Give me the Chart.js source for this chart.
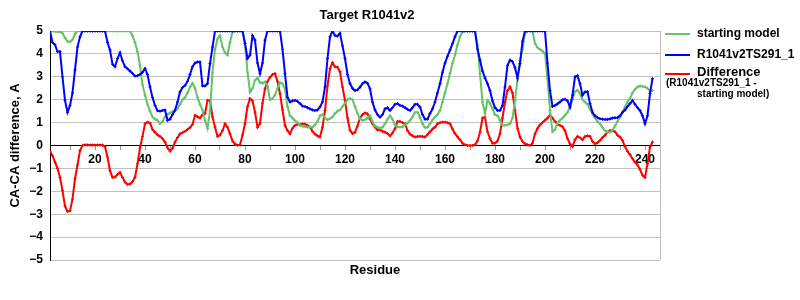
<!DOCTYPE html>
<html lang="en">
<head>
  <meta charset="UTF-8">
  <title>Target R1041v2</title>
  <script src="https://cdn.jsdelivr.net/npm/chart.js"></script>
  <style>
    body {
      margin: 0;
      background: #fff;
      font-family: 'Liberation Sans', Arial, sans-serif;
      font-weight: bold;
      color: #000;
    }
    .wrap {
      position: relative;
      width: 800px;
      height: 300px;
    }
    .txt {
      position: absolute;
      white-space: nowrap;
    }
    .swatch {
      position: absolute;
      width: 25px;
      height: 2px;
    }
  </style>
</head>
<body>
  <div class="wrap">
    <canvas id="chart" width="800" height="300"></canvas>
    <div class="txt" style="left:300px; top:7px; width:134px; text-align:center; font-size:13px;">Target R1041v2</div>
    <div class="txt" style="left:325px; top:262px; width:100px; text-align:center; font-size:13px;">Residue</div>

    <div class="swatch" style="left:665px; top:33px; background:#66c266;"></div>
    <div class="txt" style="left:697px; top:26px; font-size:12px;">starting model</div>
    <div class="swatch" style="left:665px; top:54px; background:#0000ff;"></div>
    <div class="txt" style="left:697px; top:47px; font-size:12px;">R1041v2TS291_1</div>
    <div class="swatch" style="left:665px; top:73px; background:#ff0000;"></div>
    <div class="txt" style="left:697px; top:64px; font-size:13px;">Difference</div>
    <div class="txt" style="left:666px; top:77px; font-size:10px;">(R1041v2TS291_1 -</div>
    <div class="txt" style="left:697px; top:88px; font-size:10px;">starting model)</div>
  </div>

  <script>
    // residues 2 .. 243
    const residues = Array.from({ length: 242 }, (_, i) => i + 2);

    // starting model (capped at 5 in the plot)
    const startingModel = [
      5.0, 5.0, 4.98, 4.97, 4.97, 4.9, 4.7, 4.55, 4.52, 4.62,
      4.88, 5.0, 5.0, 5.0, 5.0, 5.0, 5.0, 5.0, 5.0, 5.0,
      5.0, 5.0, 5.0, 5.0, 5.0, 5.0, 5.0, 5.0, 5.0, 5.0,
      5.0, 5.0, 5.0, 4.8, 4.5, 4.1, 3.5, 2.65, 2.2, 1.8,
      1.5, 1.25, 1.15, 1.1, 0.95, 1.05, 1.25, 1.35, 1.42, 1.48,
      1.53, 1.62, 1.8, 2.0, 2.1, 2.3, 2.55, 2.72, 2.5, 2.1,
      1.8, 1.55, 1.1, 0.75, 1.5, 3.2, 4.2, 4.65, 4.8, 4.3,
      4.05, 3.95, 4.5, 4.95, 5.0, 5.0, 5.0, 5.0, 4.45, 3.2,
      2.34, 2.5, 2.85, 2.95, 2.75, 2.72, 2.78, 2.6, 2.0, 2.05,
      2.2, 2.5, 2.75, 2.7, 2.5, 1.7, 1.3, 1.2, 1.08, 1.0,
      0.88, 0.84, 0.82, 0.8, 0.81, 0.8, 0.9, 1.05, 1.3, 1.35,
      1.2, 1.12, 1.17, 1.25, 1.4, 1.5, 1.55, 1.7, 1.85, 2.0,
      2.05, 2.0, 1.7, 1.4, 1.17, 1.1, 1.12, 1.2, 1.3, 1.05,
      0.85, 0.8, 0.76, 0.8, 0.95, 1.15, 1.3, 1.15, 0.9, 0.82,
      0.8, 0.82, 0.9, 0.98, 1.1, 1.25, 1.45, 1.45, 1.24, 0.95,
      0.78, 0.8, 0.95, 1.12, 1.25, 1.35, 1.53, 1.9, 2.3, 2.7,
      3.14, 3.6, 3.95, 4.4, 4.75, 4.95, 5.0, 5.0, 5.0, 5.0,
      5.0, 4.4, 3.14, 1.9, 1.4, 1.97, 1.85, 1.6, 1.35, 1.3,
      1.1, 0.88, 0.88, 0.9, 0.95, 1.2, 1.97, 2.9, 3.73, 4.2,
      4.9, 5.0, 5.0, 5.0, 4.46, 4.28, 4.2, 4.12, 4.02, 2.9,
      1.53, 0.6, 0.7, 0.98, 1.1, 1.2, 1.32, 1.45, 1.68, 2.0,
      2.35, 2.42, 2.27, 2.0, 1.9, 1.8, 1.6, 1.38, 1.2, 1.05,
      0.95, 0.78, 0.65, 0.58, 0.58, 0.68, 0.85, 1.05, 1.24, 1.45,
      1.7, 1.9, 2.05, 2.3, 2.45, 2.56, 2.6, 2.58, 2.56, 2.5,
      2.38, 2.4
    ];

    // R1041v2TS291_1 (capped at 5 in the plot)
    const model = [
      5.0, 4.5, 4.4, 4.1, 4.1, 3.0, 1.97, 1.45, 1.75, 2.3,
      3.3, 4.3, 4.75, 5.0, 5.0, 5.0, 5.0, 5.0, 5.0, 5.0,
      5.0, 5.0, 5.0, 4.5, 4.17, 3.55, 3.44, 3.8, 4.05, 3.7,
      3.44, 3.35, 3.25, 3.15, 3.03, 3.05, 3.1, 3.2, 3.36, 3.1,
      2.56, 2.1, 1.75, 1.52, 1.5, 1.53, 1.55, 1.1, 1.15, 1.35,
      1.53, 1.9, 2.34, 2.53, 2.62, 2.8, 3.1, 3.44, 3.6, 3.65,
      3.65, 2.6, 2.6, 2.7, 3.58, 4.3, 5.0, 5.0, 5.0, 5.0,
      5.0, 5.0, 5.0, 5.0, 5.0, 5.0, 5.0, 5.0, 4.46, 3.8,
      3.95, 4.8, 4.6, 3.6, 3.14, 3.6, 4.6, 5.0, 5.0, 5.0,
      5.0, 5.0, 5.0, 4.2, 3.14, 2.1, 1.9, 1.95, 1.97, 1.93,
      1.83, 1.72, 1.7, 1.65, 1.6, 1.55, 1.53, 1.55, 1.68, 1.9,
      2.56, 3.8, 4.75, 5.0, 4.8, 4.78, 4.9, 4.35, 3.8, 3.1,
      2.7, 2.5, 2.4, 2.43, 2.55, 2.7, 2.78, 2.72, 2.48, 1.9,
      1.55, 1.35, 1.24, 1.35, 1.6, 1.65, 1.53, 1.65, 1.8, 1.83,
      1.75, 1.72, 1.65, 1.58, 1.53, 1.65, 1.8, 1.8, 1.68, 1.35,
      1.15, 1.15, 1.4, 1.6, 1.9, 2.3, 2.7, 3.2, 3.6, 3.9,
      4.17, 4.45, 4.75, 5.0, 5.0, 5.0, 5.0, 5.0, 5.0, 5.0,
      5.0, 4.2, 3.73, 3.25, 2.95, 2.7, 2.4, 1.95, 1.65, 1.53,
      1.53, 1.75, 2.56, 3.5, 3.73, 3.66, 3.4, 2.95, 3.58, 4.55,
      5.0, 5.0, 5.0, 5.0, 5.0, 5.0, 5.0, 5.0, 5.0, 3.6,
      2.4, 1.7, 1.75, 1.82, 1.9, 2.0, 2.02, 1.95, 1.68, 2.2,
      3.0, 3.05, 2.7, 2.2, 2.34, 2.35, 1.83, 1.45, 1.3, 1.22,
      1.17, 1.15, 1.14, 1.14, 1.16, 1.2, 1.21, 1.22, 1.3, 1.45,
      1.55, 1.7, 1.83, 1.97, 1.8, 1.65, 1.53, 1.3, 0.95, 1.3,
      2.27, 2.92
    ];

    // Difference (R1041v2TS291_1 - starting model)
    const difference = [
      -0.25, -0.45, -0.73, -1.0, -1.4, -1.97, -2.65, -2.88, -2.85, -2.34,
      -1.45, -0.85, -0.22, 0.0, 0.03, 0.02, 0.02, 0.02, 0.02, 0.02,
      0.02, 0.02, -0.05, -0.5, -1.1, -1.39, -1.38, -1.26, -1.17, -1.39,
      -1.6, -1.7, -1.68, -1.58, -1.39, -0.8, -0.1, 0.4, 0.95, 1.02,
      0.98, 0.7, 0.58, 0.46, 0.4, 0.3, 0.15, -0.1, -0.25, -0.12,
      0.15, 0.35, 0.51, 0.56, 0.62, 0.7, 0.78, 0.92, 1.32, 1.25,
      1.2, 1.35, 1.39, 1.97, 1.97, 1.25, 0.8, 0.4, 0.45, 0.65,
      0.95, 0.8, 0.51, 0.2, 0.07, 0.01, 0.03, 0.45, 0.95, 1.7,
      2.05, 1.95, 1.46, 0.8, 0.95, 1.85, 2.48, 2.8, 2.98, 3.1,
      3.14, 2.8, 2.27, 1.55, 0.88, 0.65, 0.51, 0.75, 0.88, 0.93,
      0.92, 0.94, 0.93, 0.88, 0.8, 0.62, 0.5, 0.42, 0.37, 0.8,
      1.53, 2.6, 3.36, 3.62, 3.44, 3.42, 3.22, 2.55, 1.97, 1.2,
      0.66, 0.52, 0.58, 0.85, 1.2, 1.35, 1.42, 1.38, 1.15, 0.95,
      0.8, 0.68, 0.68, 0.62, 0.58, 0.52, 0.42, 0.55, 0.73, 1.05,
      1.05, 1.0, 0.95, 0.65, 0.5, 0.42, 0.37, 0.39, 0.4, 0.39,
      0.37, 0.48, 0.6, 0.72, 0.8, 0.95, 1.0, 1.02, 1.02, 1.0,
      0.95, 0.72, 0.52, 0.38, 0.25, 0.1, 0.03, 0.0, 0.0, 0.0,
      0.04, 0.2, 0.58, 1.2, 1.24, 0.6, 0.3, 0.1, 0.1, 0.2,
      0.51, 1.2, 1.9, 2.4, 2.56, 2.3, 1.53, 0.75, 0.37, 0.18,
      0.08, 0.03, 0.0, 0.1, 0.51, 0.75, 0.9, 1.0, 1.1, 1.2,
      1.32, 1.2, 1.05, 0.92, 0.88, 0.82, 0.65, 0.3, 0.07, -0.05,
      0.25, 0.4, 0.34, 0.25, 0.4, 0.42, 0.4, 0.18, 0.07, 0.12,
      0.22, 0.35, 0.45, 0.58, 0.66, 0.66, 0.6, 0.45, 0.37, 0.22,
      -0.05, -0.25, -0.4, -0.58, -0.73, -0.85, -1.05, -1.3, -1.39, -0.8,
      -0.07, 0.15
    ];

    const toPoints = vals => residues.map((r, i) => ({ x: r, y: vals[i] }));

    function series(vals, color) {
      return {
        data: toPoints(vals),
        borderColor: color,
        backgroundColor: color,
        borderWidth: 2,
        pointStyle: 'cross',
        pointRadius: 1.5,
        pointBorderWidth: 1,
        tension: 0,
        fill: false
      };
    }

    // grey right edge of the plot
    const rightEdge = {
      id: 'rightEdge',
      afterDraw(chart) {
        const { ctx, chartArea } = chart;
        ctx.save();
        ctx.strokeStyle = '#c0c0c0';
        ctx.lineWidth = 1;
        ctx.beginPath();
        ctx.moveTo(chartArea.right + 0.5, chartArea.top);
        ctx.lineTo(chartArea.right + 0.5, chartArea.bottom);
        ctx.stroke();
        ctx.restore();
      }
    };

    const tickFont = { family: "'Liberation Sans', Arial, sans-serif", size: 12, weight: 'bold' };

    new Chart(document.getElementById('chart'), {
      type: 'line',
      data: {
        datasets: [
          series(model, '#0000ff'),
          series(startingModel, '#66c266'),
          series(difference, '#ff0000')
        ]
      },
      options: {
        responsive: false,
        animation: false,
        devicePixelRatio: 1,
        layout: { padding: { left: 0, right: 140, top: 31, bottom: 40 } },
        plugins: {
          legend: { display: false },
          tooltip: { enabled: false }
        },
        scales: {
          x: {
            type: 'linear',
            position: { y: 0 },
            min: 2,
            max: 246,
            grid: { drawOnChartArea: false, drawTicks: true, tickLength: 4, color: '#999' },
            border: { color: '#000', width: 1 },
            ticks: {
              stepSize: 10,
              includeBounds: false,
              autoSkip: false,
              maxRotation: 0,
              padding: 3,
              color: '#000',
              font: tickFont,
              callback: v => (v % 20 === 0) ? v : ''
            }
          },
          y: {
            min: -5,
            max: 5,
            afterFit: s => { s.width = 50; },
            grid: { color: '#c0c0c0', drawTicks: false },
            border: { color: '#000', width: 1 },
            ticks: {
              stepSize: 1,
              padding: 7,
              color: '#000',
              font: tickFont,
              callback: v => v < 0 ? '\u2212' + Math.abs(v) : v
            },
            title: {
              display: true,
              text: 'CA-CA difference, A',
              color: '#000',
              padding: { top: 8, bottom: 0 },
              font: { family: "'Liberation Sans', Arial, sans-serif", size: 13, weight: 'bold' }
            }
          }
        }
      },
      plugins: [rightEdge]
    });
  </script>
</body>
</html>
